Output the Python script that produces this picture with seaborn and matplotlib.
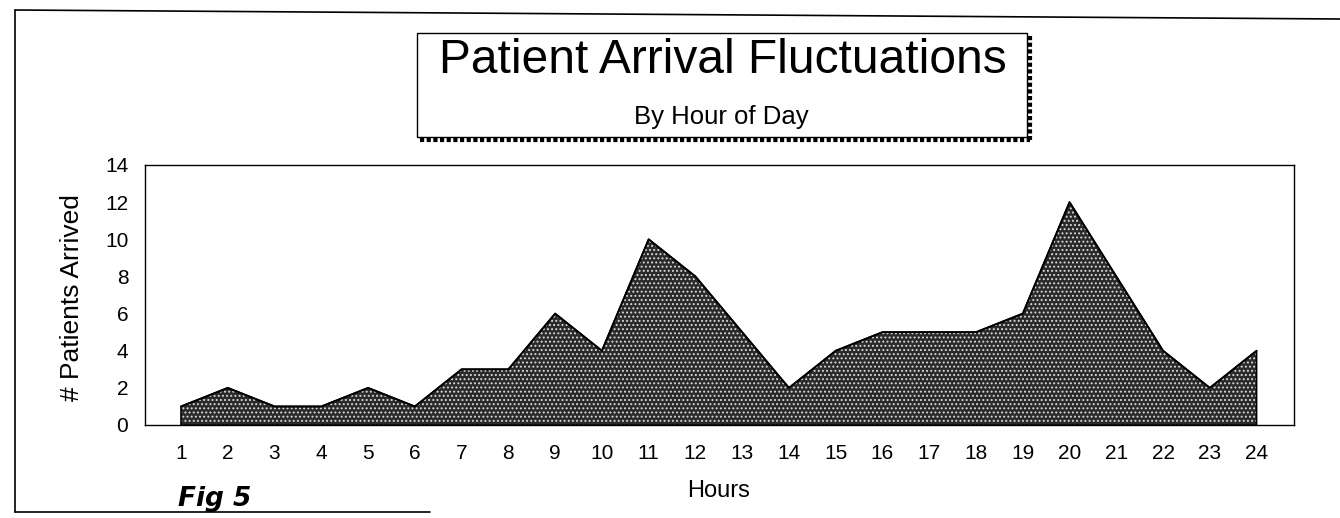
import matplotlib
matplotlib.use("Agg")
import matplotlib.pyplot as plt
import pandas as pd
import seaborn as sns
from matplotlib.patches import Rectangle
from matplotlib.lines import Line2D

# data
hours = list(range(1, 25))
patients = [1, 2, 1, 1, 2, 1, 3, 3, 6, 4, 10, 8, 5, 2, 4, 5, 5, 5, 6, 12, 8, 4, 2, 4]
y_ticks = [0, 2, 4, 6, 8, 10, 12, 14]

df = pd.DataFrame({"Hours": hours, "Patients": patients})

sns.set_style("white")
plt.rcParams["font.family"] = ["Liberation Sans", "DejaVu Sans"]
plt.rcParams["hatch.linewidth"] = 0.9
plt.rcParams["text.color"] = "black"
plt.rcParams["axes.labelcolor"] = "black"

W, H = 1340, 518
fig = plt.figure(figsize=(13.4, 5.18), dpi=100)
ax = fig.add_axes([145 / W, 1 - 425 / H, (1294 - 145) / W, (425 - 165) / H])

# dotted dark fill + black outline
ax.fill_between(df["Hours"], df["Patients"], 0, facecolor="#2a2a2a",
                edgecolor="#d8d8d8", hatch="....", linewidth=0)
ax.fill_between(df["Hours"], df["Patients"], 0, facecolor="none",
                edgecolor="black", linewidth=1.2)
sns.lineplot(data=df, x="Hours", y="Patients", ax=ax, color="black", linewidth=1.3)

ax.set_xlim(0.23, 24.8)
ax.set_ylim(0, 14)
ax.set_xticks(hours)
ax.set_yticks(y_ticks)
ax.tick_params(axis="y", direction="in", length=13.7, width=1, labelsize=15, pad=12, colors="black")
ax.tick_params(axis="x", length=0, labelsize=15, pad=14, colors="black")
for s in ax.spines.values():
    s.set_color("black")
    s.set_linewidth(1)

ax.set_ylabel("# Patients Arrived", fontsize=19)
ax.yaxis.set_label_coords(-0.053, 0.49)
ax.set_xlabel("Hours", fontsize=17)
ax.xaxis.set_label_coords(0.499, -0.21)

# title box with dotted shadow
fig.patches.append(Rectangle((417 / W, 1 - 137 / H), (1027 - 417) / W, (137 - 33) / H,
                             transform=fig.transFigure, facecolor="white",
                             edgecolor="black", linewidth=1, zorder=2))
fig.lines.append(Line2D([1030 / W, 1030 / W], [1 - 36 / H, 1 - 140 / H], transform=fig.transFigure,
                        color="black", linewidth=3, linestyle=(0, (1, 0.6))))
fig.lines.append(Line2D([420 / W, 1030 / W], [1 - 139.5 / H, 1 - 139.5 / H], transform=fig.transFigure,
                        color="black", linewidth=3, linestyle=(0, (1, 0.6))))
fig.text(723 / W, 1 - 73 / H, "Patient Arrival Fluctuations", fontsize=34.5,
         ha="center", va="baseline", zorder=3)
fig.text(721 / W, 1 - 124 / H, "By Hour of Day", fontsize=18.5,
         ha="center", va="baseline", zorder=3)

# page frame from the scan
fig.lines.append(Line2D([15 / W, 1.0], [1 - 10 / H, 1 - 19 / H], transform=fig.transFigure,
                        color="black", linewidth=1.2))
fig.lines.append(Line2D([15 / W, 15 / W], [1 - 10 / H, 1 - 512 / H], transform=fig.transFigure,
                        color="black", linewidth=1.2))
fig.lines.append(Line2D([15 / W, 430 / W], [1 - 512 / H, 1 - 512 / H], transform=fig.transFigure,
                        color="black", linewidth=1.2))

fig.text(215 / W, 1 - 499 / H, "Fig 5", fontsize=19, fontweight="heavy",
         fontstyle="italic", family=["DejaVu Sans"], ha="center", va="center")

fig.savefig("out.png", dpi=100)
